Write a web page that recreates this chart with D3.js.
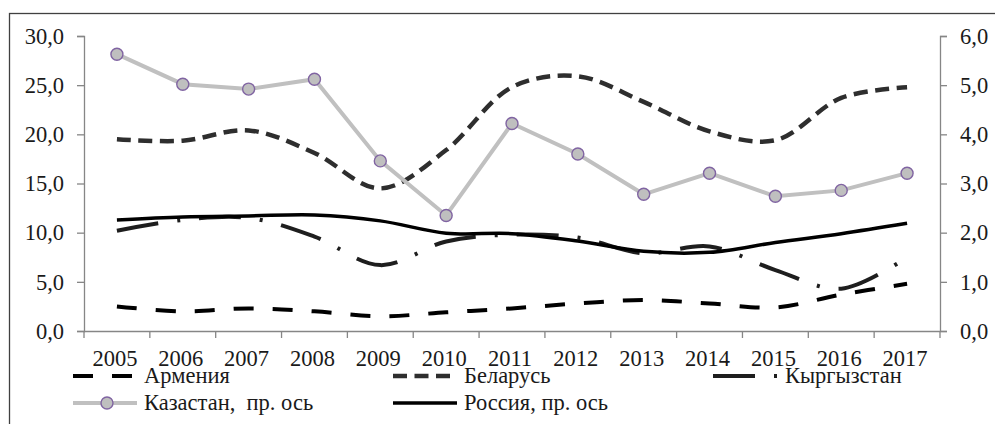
<!DOCTYPE html>
<html>
<head>
<meta charset="utf-8">
<script src="https://cdn.jsdelivr.net/npm/d3@7"></script>
<style>
  body { margin: 0; background: #fff; }
</style>
</head>
<body>
<script>
// data
var years = ['2005','2006','2007','2008','2009','2010','2011','2012','2013','2014','2015','2016','2017'];
var armenia  = [2.5, 2.0, 2.3, 2.0, 1.5, 1.9, 2.3, 2.8, 3.15, 2.8, 2.4, 3.7, 4.8];
var belarus  = [19.5, 19.35, 20.4, 18.1, 14.5, 18.4, 24.8, 25.9, 23.3, 20.3, 19.4, 23.7, 24.8];
var kyrgyz   = [10.2, 11.3, 11.5, 9.6, 6.7, 9.1, 9.8, 9.5, 7.9, 8.6, 6.2, 4.3, 7.5];
// right axis
var kazakh   = [5.63, 5.02, 4.92, 5.12, 3.46, 2.35, 4.22, 3.6, 2.78, 3.21, 2.74, 2.86, 3.21];
var russia   = [2.26, 2.32, 2.34, 2.36, 2.24, 1.99, 1.98, 1.83, 1.62, 1.6, 1.8, 1.98, 2.19];
var leftTicks  = [0, 5, 10, 15, 20, 25, 30];
var rightTicks = [0, 1, 2, 3, 4, 5, 6];
var legendNames = ['Армения', 'Беларусь', 'Кыргызстан', 'Казастан,\u00a0 пр. ось', 'Россия, пр. ось'];

var w = 995, h = 424;
var FONT = "'Liberation Serif', 'Times New Roman', serif";
var FS = 22.5;
var svg = d3.select('body').append('svg')
  .attr('width', w)
  .attr('height', h)
  .attr('font-family', 'Liberation Serif');

// frame (cut off on the right and bottom)
svg.append('rect')
  .attr('x', 9.5).attr('y', 13.5)
  .attr('width', 1000).attr('height', 500)
  .attr('fill', 'none')
  .attr('stroke', '#404040')
  .attr('stroke-width', 1.3);

var x = d3.scaleBand().domain(years).range([84, 940]);
var yL = d3.scaleLinear().domain([0, 30]).range([331, 36]);
var yR = d3.scaleLinear().domain([0, 6]).range([331, 36]);
var fmt = function(d){ return d3.format('.1f')(d).replace('.', ','); };
var axisCol = '#868686';

// left axis
var gl = svg.append('g').attr('transform', 'translate(84,0)')
  .call(d3.axisLeft(yL).tickValues(leftTicks).tickSize(7).tickPadding(13).tickFormat(fmt));
// right axis
var gr = svg.append('g').attr('transform', 'translate(940,0)')
  .call(d3.axisRight(yR).tickValues(rightTicks).tickSize(7).tickPadding(13).tickFormat(fmt));
// bottom axis, labels at band centres
var gb = svg.append('g').attr('transform', 'translate(0,331)')
  .call(d3.axisBottom(x).tickSize(0).tickPadding(19));
gb.select('.domain').remove();
gb.selectAll('.tick text').attr('dx', -2);
svg.append('line')
  .attr('x1', 84).attr('x2', 940).attr('y1', 331.5).attr('y2', 331.5)
  .attr('stroke', axisCol).attr('stroke-width', 1.3);
// ticks between categories
svg.selectAll('.xtick')
  .data(years.concat(['end']))
  .join('line')
  .attr('class', 'xtick')
  .attr('x1', function(d){ return d == 'end' ? x.range()[1] : x(d); })
  .attr('x2', function(d){ return d == 'end' ? x.range()[1] : x(d); })
  .attr('y1', 331).attr('y2', 338)
  .attr('stroke', axisCol).attr('stroke-width', 1.3);

[gl, gr, gb].forEach(function(g){
  g.attr('font-family', 'Liberation Serif').attr('font-size', FS);
  g.select('.domain').attr('stroke', axisCol).attr('stroke-width', 1.3);
  g.selectAll('.tick line').attr('stroke', axisCol).attr('stroke-width', 1.3);
  g.selectAll('.tick text')
    .attr('font-family', 'Liberation Serif')
    .style('font-family', FONT)
    .style('font-size', FS + 'px')
    .attr('fill', '#1a1a1a');
});

var cx = function(d, i){ return x(years[i]) + x.bandwidth() / 2; };
var smooth = d3.curveCatmullRom.alpha(0.5);

var series = [
  { name: legendNames[0], data: armenia, y: yL, stroke: '#000', width: 4, dash: '20,19', curve: smooth },
  { name: legendNames[1], data: belarus, y: yL, stroke: '#2e2e2e', width: 4.5, dash: '14,7.5', curve: smooth },
  { name: legendNames[2], data: kyrgyz, y: yL, stroke: '#1e1e1e', width: 4, dash: '42,19,3,19', curve: smooth },
  { name: legendNames[3], data: kazakh, y: yR, stroke: '#c0c0c0', width: 4, dash: null, curve: d3.curveLinear, marker: true },
  { name: legendNames[4], data: russia, y: yR, stroke: '#000', width: 3.5, dash: null, curve: smooth }
];

series.forEach(function(s){
  var line = d3.line()
    .x(cx)
    .y(function(d){ return s.y(d); })
    .curve(s.curve);
  svg.append('path')
    .datum(s.data)
    .attr('d', line)
    .attr('fill', 'none')
    .attr('stroke', s.stroke)
    .attr('stroke-width', s.width)
    .attr('stroke-dasharray', s.dash);
  if (s.marker) {
    svg.selectAll('.mk')
      .data(s.data)
      .join('circle')
      .attr('class', 'mk')
      .attr('cx', cx)
      .attr('cy', function(d){ return s.y(d); })
      .attr('r', 6)
      .attr('fill', '#bfbfbf')
      .attr('stroke', '#8064a2')
      .attr('stroke-width', 1.4);
  }
});

// legend
var legX = [73, 393, 713];
var legY = [376, 403];
var lg = svg.selectAll('.leg')
  .data(series)
  .join('g')
  .attr('class', 'leg')
  .attr('transform', function(d, i){
    return 'translate(' + legX[i % 3] + ',' + legY[Math.floor(i / 3)] + ')';
  });
lg.append('line')
  .attr('x1', 0)
  .attr('x2', function(d, i){ return i == 2 ? 67 : 64; })
  .attr('y1', 0).attr('y2', 0)
  .attr('stroke', function(d){ return d.stroke; })
  .attr('stroke-width', function(d){ return d.width; })
  .attr('stroke-dasharray', function(d){ return d.dash; });
lg.filter(function(d){ return d.marker; })
  .append('circle')
  .attr('cx', 34).attr('cy', 0).attr('r', 6)
  .attr('fill', '#bfbfbf')
  .attr('stroke', '#8064a2')
  .attr('stroke-width', 1.4);
lg.append('text')
  .attr('x', function(d, i){ return i == 2 ? 72 : 71; })
  .attr('y', 0)
  .attr('dy', '0.32em')
  .attr('font-family', 'Liberation Serif')
  .attr('font-size', FS)
  .style('font-family', FONT)
  .style('font-size', FS + 'px')
  .attr('fill', '#1a1a1a')
  .text(function(d){ return d.name; });
</script>
</body>
</html>
